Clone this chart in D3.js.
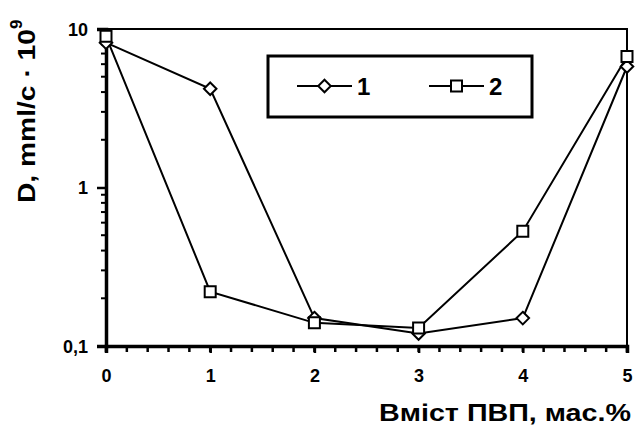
<!DOCTYPE html>
<html>
<head>
<meta charset="utf-8">
<script src="https://cdn.jsdelivr.net/npm/d3@7"></script>
<style>
  body { margin: 0; background: #fff; }
  text { font-family: "Liberation Sans", Arial, sans-serif; font-weight: bold; fill: #000; }
</style>
</head>
<body>
<div id="chart"></div>
<script>
  'use strict';

  // data
  var xValues = [0, 1, 2, 3, 4, 5];
  var series1 = [8.2, 4.2, 0.15, 0.12, 0.15, 5.8];   // diamonds
  var series2 = [9.0, 0.22, 0.14, 0.13, 0.53, 6.7];  // squares
  var seriesNames = ['1', '2'];
  var yTickValues = [0.1, 1, 10];
  var yTickLabels = ['0,1', '1', '10'];

  var W = 635, H = 426,
      plotLeft = 106, plotRight = 627, plotTop = 29, plotBottom = 346;

  var svg = d3.select('#chart').append('svg')
    .attr('width', W)
    .attr('height', H);

  var x = d3.scaleLinear().domain([0, 5]).range([plotLeft, plotRight]);
  var y = d3.scaleLog().domain([0.1, 10]).range([plotBottom, plotTop]);

  // frame (top and right)
  svg.append('path')
    .attr('d', 'M' + plotLeft + ',' + plotTop + 'H' + plotRight + 'V' + plotBottom)
    .attr('fill', 'none')
    .attr('stroke', '#000')
    .attr('stroke-width', 2);

  // minor ticks
  var xMinor = d3.range(0, 26).map(function (i) { return i / 5; });
  svg.append('g').selectAll('line')
    .data(xMinor)
    .enter().append('line')
      .attr('x1', function (d) { return x(d); })
      .attr('x2', function (d) { return x(d); })
      .attr('y1', plotBottom)
      .attr('y2', plotBottom + 6)
      .attr('stroke', '#000')
      .attr('stroke-width', 2.5);

  var yMinor = [];
  [0.1, 1].forEach(function (base) {
    for (var k = 2; k <= 9; k++) { yMinor.push(base * k); }
  });
  svg.append('g').selectAll('line')
    .data(yMinor)
    .enter().append('line')
      .attr('x1', plotLeft - 5)
      .attr('x2', plotLeft)
      .attr('y1', function (d) { return y(d); })
      .attr('y2', function (d) { return y(d); })
      .attr('stroke', '#000')
      .attr('stroke-width', 2);

  // axes
  var xAxis = svg.append('g')
    .attr('transform', 'translate(0,' + plotBottom + ')')
    .call(d3.axisBottom(x).tickValues(xValues).tickSize(7).tickPadding(16)
      .tickFormat(d3.format('d')));

  var yAxis = svg.append('g')
    .attr('transform', 'translate(' + plotLeft + ',0)')
    .call(d3.axisLeft(y).tickValues(yTickValues).tickSize(9).tickPadding(9)
      .tickFormat(function (d, i) { return yTickLabels[i]; }));

  [xAxis, yAxis].forEach(function (g) {
    g.select('.domain').attr('stroke-width', 3.5);
    g.selectAll('.tick line').attr('stroke-width', 2.5);
    g.selectAll('text')
      .attr('font-family', '"Liberation Sans", Arial, sans-serif')
      .attr('font-weight', 'bold')
      .attr('font-size', 18);
  });
  yAxis.selectAll('text').attr('dy', '0.36em');

  // lines
  var line = d3.line()
    .x(function (d, i) { return x(xValues[i]); })
    .y(function (d) { return y(d); });

  [series1, series2].forEach(function (s) {
    svg.append('path')
      .datum(s)
      .attr('d', line)
      .attr('fill', 'none')
      .attr('stroke', '#000')
      .attr('stroke-width', 2);
  });

  var diamond = d3.symbol().type(d3.symbolDiamond2).size(100);
  var square = d3.symbol().type(d3.symbolSquare).size(121);

  function markers(data, sym) {
    svg.append('g').selectAll('path')
      .data(data)
      .enter().append('path')
        .attr('transform', function (d, i) {
          return 'translate(' + x(xValues[i]) + ',' + y(d) + ')';
        })
        .attr('d', sym)
        .attr('fill', '#fff')
        .attr('stroke', '#000')
        .attr('stroke-width', 2);
  }
  markers(series1, diamond);
  markers(series2, square);

  // legend
  var legend = svg.append('g');
  legend.append('rect')
    .attr('x', 268).attr('y', 56)
    .attr('width', 264).attr('height', 61)
    .attr('fill', '#fff')
    .attr('stroke', '#000')
    .attr('stroke-width', 3);

  [{ x0: 297, sym: diamond }, { x0: 429, sym: square }].forEach(function (it, i) {
    var ly = 86;
    legend.append('line')
      .attr('x1', it.x0).attr('x2', it.x0 + 55)
      .attr('y1', ly).attr('y2', ly)
      .attr('stroke', '#000').attr('stroke-width', 2);
    legend.append('path')
      .attr('transform', 'translate(' + (it.x0 + 27.5) + ',' + ly + ')')
      .attr('d', it.sym)
      .attr('fill', '#fff').attr('stroke', '#000').attr('stroke-width', 2);
    legend.append('text')
      .attr('x', it.x0 + 60).attr('y', 95)
      .attr('font-size', 24)
      .text(seriesNames[i]);
  });

  // axis titles
  svg.append('text')
    .attr('x', 379).attr('y', 421)
    .attr('font-size', 24)
    .attr('textLength', 252)
    .attr('lengthAdjust', 'spacingAndGlyphs')
    .text('Вміст ПВП, мас.%');

  var yt = svg.append('text')
    .attr('transform', 'translate(35,203) rotate(-90)')
    .attr('font-size', 24);
  yt.append('tspan')
    .attr('textLength', 174)
    .attr('lengthAdjust', 'spacingAndGlyphs')
    .text('D, mml/c · 10');
  yt.append('tspan').attr('dy', -13).attr('font-size', 17).text('9');
</script>
</body>
</html>
